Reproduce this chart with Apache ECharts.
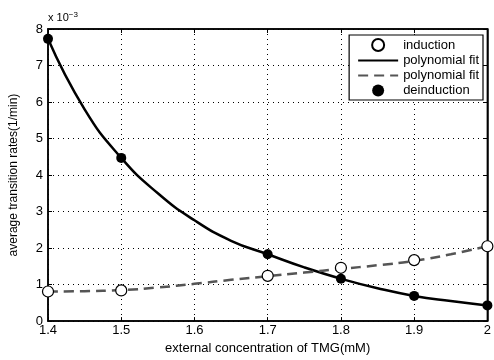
<!DOCTYPE html>
<html><head><meta charset="utf-8">
<script src="https://cdn.jsdelivr.net/npm/echarts@6/dist/echarts.min.js"></script>
<style>html,body{margin:0;padding:0;background:#fff}#c{width:494px;height:360px}</style>
</head><body><div id="c"></div>
<script>
// x positions (mM)
const xPoints = [1.4, 1.5, 1.7, 1.8, 1.9, 2.0];
// measured rates (x 10^-3 / min)
const induction = [0.81, 0.84, 1.24, 1.46, 1.67, 2.05];
const deinduction = [7.73, 4.47, 1.83, 1.16, 0.69, 0.43];
// fitted curves
const fitX = [1.4, 1.45, 1.5, 1.55, 1.6, 1.65, 1.7, 1.75, 1.8, 1.85, 1.9, 1.95, 2.0];
const fitDeinduction = [7.73, 5.8, 4.47, 3.5, 2.76, 2.2, 1.83, 1.47, 1.16, 0.90, 0.69, 0.55, 0.43];
const fitInduction = [0.81, 0.82, 0.85, 0.92, 1.02, 1.13, 1.23, 1.33, 1.43, 1.53, 1.65, 1.83, 2.05];
const xTicks = [1.4, 1.5, 1.6, 1.7, 1.8, 1.9, 2.0];
const yTicks = [0, 1, 2, 3, 4, 5, 6, 7, 8];

const zip = (a, b) => a.map((v, i) => [v, b[i]]);
const FONT = 'Liberation Sans, Arial, sans-serif';
const chart = echarts.init(document.getElementById('c'));
const gridLine = {show: true, lineStyle: {color: '#000', type: [1, 4], width: 1}};
chart.setOption({
  animation: false,
  grid: {left: 46, right: 4, top: 29, bottom: 34, show: true, borderColor: '#000', borderWidth: 1.5, backgroundColor: 'transparent'},
  xAxis: [{
    type: 'value', min: xTicks[0], max: xTicks[xTicks.length - 1], interval: 0.1,
    axisLine: {show: true, onZero: false, lineStyle: {color: '#000', width: 1.5}},
    axisTick: {show: true, inside: true, length: 4, lineStyle: {color: '#000'}},
    axisLabel: {color: '#000', fontFamily: FONT, fontSize: 13, margin: 3,
      formatter: v => String(Math.round(v * 10) / 10)},
    splitLine: gridLine,
    name: 'external concentration of TMG(mM)', nameLocation: 'middle', nameGap: 19,
    nameTextStyle: {color: '#000', fontFamily: FONT, fontSize: 13}
  }, {
    type: 'value', position: 'top', min: xTicks[0], max: xTicks[xTicks.length - 1], interval: 0.1,
    axisLine: {show: true, onZero: false, lineStyle: {color: '#000', width: 1.5}},
    axisTick: {show: true, inside: true, length: 4, lineStyle: {color: '#000'}},
    axisLabel: {show: false}, splitLine: {show: false}
  }],
  yAxis: [{
    type: 'value', min: yTicks[0], max: yTicks[yTicks.length - 1], interval: 1,
    axisLine: {show: true, onZero: false, lineStyle: {color: '#000', width: 1.5}},
    axisTick: {show: true, inside: true, length: 4, lineStyle: {color: '#000'}},
    axisLabel: {color: '#000', fontFamily: FONT, fontSize: 13, margin: 5},
    splitLine: gridLine,
    name: 'average transition rates(1/min)', nameLocation: 'middle', nameGap: 28,
    nameTextStyle: {color: '#000', fontFamily: FONT, fontSize: 12}
  }, {
    type: 'value', position: 'right', min: yTicks[0], max: yTicks[yTicks.length - 1], interval: 1,
    axisLine: {show: true, onZero: false, lineStyle: {color: '#000', width: 1.5}},
    axisTick: {show: true, inside: true, length: 4, lineStyle: {color: '#000'}},
    axisLabel: {show: false}, splitLine: {show: false}
  }],
  legend: {
    orient: 'vertical', right: 11, top: 35, padding: [3, 4, 3, 8],
    backgroundColor: '#fff', borderColor: '#000', borderWidth: 1.2,
    itemGap: 2, itemWidth: 40, itemHeight: 12,
    textStyle: {color: '#000', fontFamily: FONT, fontSize: 13},
    formatter: n => n.trim(),
    data: [
      {name: 'induction'},
      {name: 'polynomial fit', itemStyle: {opacity: 0}},
      {name: 'polynomial fit ', itemStyle: {opacity: 0}},
      {name: 'deinduction'}
    ]
  },
  graphic: [{
    type: 'text', left: 48, top: 11,
    style: {
      text: '{a|x 10}{b|−3}', fill: '#000',
      rich: {a: {fontFamily: FONT, fontSize: 11, fill: '#000'},
             b: {fontFamily: FONT, fontSize: 8, fill: '#000', verticalAlign: 'top', padding: [0, 0, 6, 0]}}
    }
  }],
  series: [
    {name: 'polynomial fit', type: 'line', smooth: 0.5, symbol: 'none', z: 2, color: '#000',
      data: zip(fitX, fitDeinduction), lineStyle: {color: '#000', width: 2.5}},
    {name: 'polynomial fit ', type: 'line', smooth: 0.5, symbol: 'none', z: 2, color: '#555',
      data: zip(fitX, fitInduction), lineStyle: {color: '#555', width: 2.5, type: [10, 6]}},
    {name: 'induction', type: 'scatter', symbol: 'circle', symbolSize: 11, z: 3, color: '#fff',
      data: zip(xPoints, induction), itemStyle: {color: '#fff', borderColor: '#000', borderWidth: 1.2, opacity: 1}},
    {name: 'deinduction', type: 'scatter', symbol: 'circle', symbolSize: 10, z: 4, color: '#000',
      data: zip(xPoints, deinduction), itemStyle: {color: '#000', opacity: 1}}
  ]
});
</script></body></html>
